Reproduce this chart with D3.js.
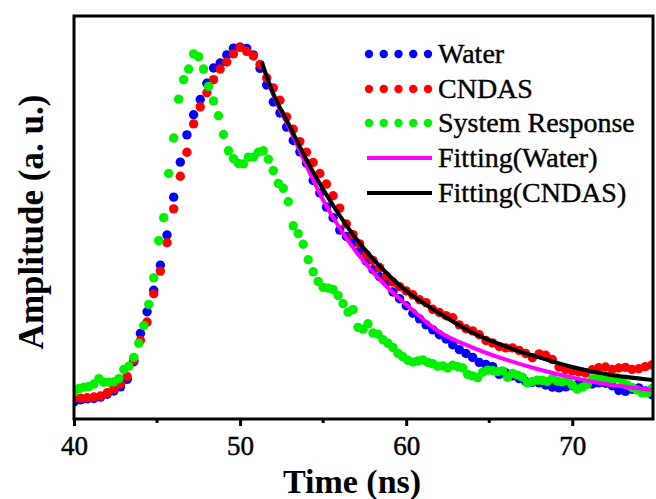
<!DOCTYPE html>
<html lang="en">
<head>
<meta charset="UTF-8">
<title>Amplitude vs Time</title>
<script src="https://d3js.org/d3.v7.min.js"></script>
<style>
  body { margin: 0; background: #fff; }
  svg { display: block; font-family: "Liberation Serif", "Times New Roman", serif; }
</style>
</head>
<body>
<svg width="656" height="499"></svg>
<script>
// sampled traces (normalised amplitude), Water / CNDAS every 0.4 ns from 40 ns
const traceStart = 40, traceStep = 0.4;
const water = [
  -0.006, 0.000, 0.003, 0.004, 0.008, 0.016, 0.025, 0.037, 0.058, 0.108,
  0.188, 0.249, 0.310, 0.381, 0.466, 0.573, 0.672, 0.749, 0.806, 0.849,
  0.895, 0.938, 0.952, 0.975, 0.994, 0.997, 0.993, 0.975, 0.937, 0.890,
  0.842, 0.811, 0.771, 0.733, 0.701, 0.669, 0.620, 0.585, 0.545, 0.515,
  0.480, 0.462, 0.444, 0.420, 0.392, 0.368, 0.348, 0.333, 0.305, 0.286,
  0.266, 0.245, 0.229, 0.212, 0.198, 0.184, 0.172, 0.156, 0.142, 0.131,
  0.120, 0.106, 0.100, 0.094, 0.072, 0.076, 0.068, 0.060, 0.052, 0.050,
  0.048, 0.042, 0.036, 0.034, 0.037, 0.040, 0.046, 0.047, 0.045, 0.048,
  0.047, 0.040, 0.027, 0.024, 0.030, 0.034, 0.025, 0.015
];
const cndas = [
  0.004, 0.005, 0.006, 0.008, 0.011, 0.020, 0.031, 0.045, 0.066, 0.112,
  0.168, 0.220, 0.300, 0.364, 0.444, 0.540, 0.632, 0.700, 0.780, 0.828,
  0.868, 0.905, 0.935, 0.955, 0.978, 0.997, 0.985, 0.972, 0.948, 0.910,
  0.882, 0.847, 0.800, 0.765, 0.730, 0.700, 0.671, 0.640, 0.610, 0.577,
  0.542, 0.497, 0.467, 0.441, 0.411, 0.394, 0.374, 0.350, 0.333, 0.320,
  0.308, 0.297, 0.283, 0.275, 0.256, 0.247, 0.238, 0.232, 0.212, 0.201,
  0.195, 0.184, 0.168, 0.161, 0.151, 0.147, 0.147, 0.140, 0.131, 0.119,
  0.130, 0.126, 0.114, 0.093, 0.086, 0.082, 0.079, 0.076, 0.085, 0.091,
  0.093, 0.086, 0.090, 0.092, 0.086, 0.088, 0.094, 0.099
];
// system response every 0.3 ns from 40 ns
const sysStart = 40, sysStep = 0.3;
const systemResponse = [
  0.022, 0.032, 0.036, 0.038, 0.045, 0.060, 0.050, 0.050, 0.051, 0.060,
  0.086, 0.095, 0.120, 0.160, 0.210, 0.270, 0.345, 0.450, 0.515, 0.640,
  0.740, 0.850, 0.905, 0.935, 0.978, 0.970, 0.935, 0.886, 0.845, 0.803,
  0.750, 0.704, 0.682, 0.668, 0.667, 0.686, 0.686, 0.700, 0.704, 0.680,
  0.648, 0.612, 0.598, 0.560, 0.492, 0.470, 0.440, 0.396, 0.362, 0.335,
  0.318, 0.316, 0.312, 0.295, 0.272, 0.248, 0.255, 0.205, 0.200, 0.215,
  0.189, 0.186, 0.170, 0.160, 0.148, 0.132, 0.122, 0.112, 0.107, 0.110,
  0.113, 0.106, 0.102, 0.095, 0.096, 0.090, 0.098, 0.094, 0.090, 0.072,
  0.068, 0.063, 0.078, 0.084, 0.083, 0.080, 0.082, 0.064, 0.075, 0.070,
  0.064, 0.048, 0.052, 0.056, 0.055, 0.052, 0.060, 0.053, 0.051, 0.054,
  0.042, 0.030, 0.036, 0.044, 0.058, 0.062, 0.056, 0.062, 0.058, 0.062,
  0.055, 0.042, 0.035, 0.028, 0.020, 0.020, 0.032
];
// fitted decay curves
const fitTime  = [51.3, 52, 53, 54, 55, 56, 57, 58, 59, 60, 62, 64, 66, 68, 70, 72, 74.9];
const fitWater = [0.955, 0.862, 0.765, 0.662, 0.565, 0.485, 0.418, 0.361, 0.312, 0.270, 0.192, 0.148, 0.114, 0.086, 0.063, 0.045, 0.028];
const fitCndas = [0.955, 0.865, 0.772, 0.678, 0.595, 0.521, 0.455, 0.399, 0.350, 0.308, 0.245, 0.190, 0.151, 0.120, 0.093, 0.073, 0.056];

const xTicks = [40, 50, 60, 70];
const xMinorTicks = [45, 55, 65];
const legendLabels = ["Water", "CNDAS", "System Response", "Fitting(Water)", "Fitting(CNDAS)"];

const svg = d3.select("svg");
const plotL = 74, plotR = 653, plotT = 16, plotB = 419;

const x = d3.scaleLinear().domain([40, 74.86]).range([plotL, plotR]);
const y = d3.scaleLinear().domain([-0.054, 1.085]).range([plotB, plotT]);

svg.append("clipPath").attr("id", "plot")
  .append("rect").attr("x", plotL).attr("y", plotT)
  .attr("width", plotR - plotL).attr("height", plotB - plotT);

const plot = svg.append("g").attr("clip-path", "url(#plot)");

function dots(values, start, step, color) {
  plot.append("g").selectAll("circle")
    .data(values)
    .enter().append("circle")
    .attr("cx", (d, i) => x(start + i * step))
    .attr("cy", d => y(d))
    .attr("r", 4.7)
    .attr("fill", color);
}
dots(water, traceStart, traceStep, "#0000ff");
dots(cndas, traceStart, traceStep, "#ff0000");
dots(systemResponse, sysStart, sysStep, "#00f000");

const line = d3.line()
  .x((d, i) => x(fitTime[i]))
  .y(d => y(d))
  .curve(d3.curveMonotoneX);

plot.append("path").attr("d", line(fitWater))
  .attr("fill", "none").attr("stroke", "#ff00ff").attr("stroke-width", 4);
plot.append("path").attr("d", line(fitCndas))
  .attr("fill", "none").attr("stroke", "#000").attr("stroke-width", 4);

// frame
svg.append("rect")
  .attr("x", plotL).attr("y", plotT)
  .attr("width", plotR - plotL).attr("height", plotB - plotT)
  .attr("fill", "none").attr("stroke", "#000").attr("stroke-width", 3);

// x axis
const xAxis = svg.append("g")
  .attr("transform", `translate(0,${plotB})`)
  .call(d3.axisBottom(x).tickValues(xTicks).tickSize(7).tickSizeOuter(0).tickFormat(d3.format("d")));
xAxis.select(".domain").remove();
xAxis.selectAll(".tick line").attr("stroke-width", 3);
xAxis.selectAll(".tick text")
  .attr("y", 36).attr("dy", null)
  .attr("font-family", "Liberation Serif, Times New Roman, serif")
  .attr("font-size", 27).attr("fill", "#000")
  .attr("stroke", "#000").attr("stroke-width", 0.5);

svg.append("g").selectAll("line")
  .data(xMinorTicks)
  .enter().append("line")
  .attr("x1", d => x(d)).attr("x2", d => x(d))
  .attr("y1", plotB).attr("y2", plotB + 4)
  .attr("stroke", "#000").attr("stroke-width", 3);

// axis titles
svg.append("text")
  .attr("x", 352).attr("y", 493)
  .attr("text-anchor", "middle")
  .attr("font-size", 34).attr("font-weight", "bold")
  .text("Time (ns)");

svg.append("text")
  .attr("transform", "translate(43,222) rotate(-90)")
  .attr("text-anchor", "middle")
  .attr("font-size", 35).attr("font-weight", "bold")
  .text("Amplitude (a. u.)");

// legend
const legendColors = ["#0000ff", "#ff0000", "#00f000", "#ff00ff", "#000"];
const rowY = [54, 89, 123, 158, 193];
const legend = svg.append("g");
legendLabels.forEach((label, k) => {
  if (k < 3) {
    legend.append("g").selectAll("circle")
      .data(d3.range(5))
      .enter().append("circle")
      .attr("cx", i => 369 + i * 14.75)
      .attr("cy", rowY[k])
      .attr("r", 4.2)
      .attr("fill", legendColors[k]);
  } else {
    legend.append("line")
      .attr("x1", 367).attr("x2", 432)
      .attr("y1", rowY[k]).attr("y2", rowY[k])
      .attr("stroke", legendColors[k]).attr("stroke-width", 4);
  }
  legend.append("text")
    .attr("x", 438).attr("y", rowY[k] + 9)
    .attr("font-size", 28)
    .attr("stroke", "#000").attr("stroke-width", 0.4)
    .text(label);
});
</script>
</body>
</html>
